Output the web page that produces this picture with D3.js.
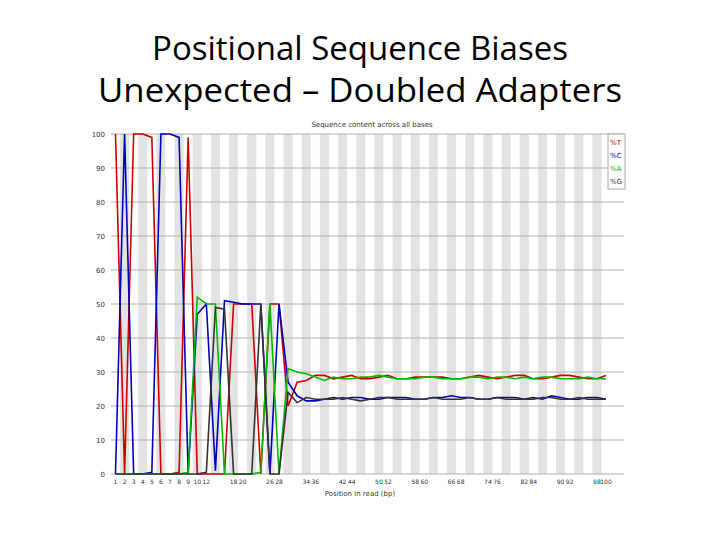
<!DOCTYPE html>
<html><head><meta charset="utf-8">
<script src="https://cdn.jsdelivr.net/npm/d3@7"></script>
<style>body{margin:0;background:#fff}</style>
</head><body>
<script>
// positions (FastQC style bins)
const positions = [];
for (let i = 1; i <= 9; i++) positions.push(String(i));
for (let i = 10; positions.length < 55; i += 2) positions.push(i + "-" + (i + 1));

const pctT = [100,0,100,100,99,0,0,0.5,99,0,0,0,0,50,50,50,0,50,50,20,27,27.5,29,29,28,28.5,29,28,28,28.5,29,28,28,28.5,28.5,28.5,28.5,28,28,28.5,29,28.5,28,28.5,29,29,28,28,28.5,29,29,28.5,28,28,29];
const pctC = [0,100,0,0,0.5,100,100,99,0,47,50,1,51,50.5,50,50,50,0,50,27,23,21.5,21.5,22,22.5,22,22.5,22.5,22,22,22.5,22.5,22.5,22,22,22.5,22.5,23,22.5,22.5,22,22,22.5,22.5,22.5,22,22.5,22,23,22.5,22,22,22.5,22.5,22];
const pctA = [0,0,0,0,0,0,0,0,0.5,52,50,50,0,0,0,0,0.5,50,0,31,30,29.5,28.5,27.5,28.5,28,28,28.5,28.5,29,28.5,28,28,28,28.5,28.5,28,28,28,28.5,28.5,28,28.5,28.5,28,28.5,28,28.5,28.5,28,28,28,28.5,28,28];
const pctG = [0,0,0,0,0,0,0,0,0,0,0.5,49,48.5,0,0,0,50,0,0,24,21,22.5,22,22,22,22.5,22,21.5,22,22.5,22.5,22,22,22,22,22.5,22,22,22,22.5,22,22,22.5,22,22,22,22,22.5,22.5,22,22,22.5,22,22,22];
const series = [
  {name: "%T", values: pctT, color: "#cc0000"},
  {name: "%C", values: pctC, color: "#0000bb"},
  {name: "%A", values: pctA, color: "#00bb00"},
  {name: "%G", values: pctG, color: "#333333"}
];
const yTicks = [0,10,20,30,40,50,60,70,80,90,100];

const svg = d3.select("body").append("svg").attr("width", 720).attr("height", 540);

svg.append("text").attr("x", 360).attr("y", 60).attr("text-anchor", "middle")
  .attr("font-family", "Open Sans, sans-serif").attr("font-size", 33).text("Positional Sequence Biases");
svg.append("text").attr("x", 360).attr("y", 102).attr("text-anchor", "middle")
  .attr("font-family", "Open Sans, sans-serif").attr("font-size", 33)
  .attr("textLength", 524).attr("lengthAdjust", "spacingAndGlyphs").text("Unexpected – Doubled Adapters");

const pLeft = 111, pRight = 610, pTop = 134, pBottom = 474;
const x = d3.scalePoint().domain(positions).range([pLeft + 4.5, pRight - 4]);
const y = d3.scaleLinear().domain([0, 100]).range([pBottom, pTop]);
const step = x.step();

const g = svg.append("g").attr("font-family", "DejaVu Sans, sans-serif");

// alternating stripes
g.selectAll("rect.band").data(positions.filter((d, i) => i % 2 == 1)).join("rect")
  .attr("x", d => x(d) - step / 2).attr("y", pTop).attr("width", step).attr("height", pBottom - pTop)
  .attr("fill", "#e3e3e3");

// horizontal grid
g.selectAll("line.grid").data(yTicks).join("line")
  .attr("x1", pLeft).attr("x2", pRight + 14).attr("y1", d => y(d)).attr("y2", d => y(d))
  .attr("stroke", "#b0b0b0").attr("stroke-width", 1);

g.selectAll("text.ytick").data(yTicks).join("text")
  .attr("x", 105).attr("y", d => y(d) + 3).attr("text-anchor", "end")
  .attr("font-size", 7).attr("fill", "#333").text(d => d);

g.selectAll("text.xtick").data(positions.filter((d, i) => i < 9 || (i - 9) % 4 == 0 || (i - 9) % 4 == 1)).join("text")
  .attr("x", d => x(d)).attr("y", 484).attr("text-anchor", "middle")
  .attr("font-size", 6).attr("fill", "#333").text(d => d.split("-")[0]);

const line = d3.line().x((d, i) => x(positions[i])).y(d => y(d));
series.forEach(s => {
  g.append("path").datum(s.values).attr("d", line).attr("fill", "none")
    .attr("stroke", s.color).attr("stroke-width", 1.6);
});

g.append("text").attr("x", 372).attr("y", 127).attr("text-anchor", "middle")
  .attr("font-size", 7).attr("fill", "#333").text("Sequence content across all bases");
g.append("text").attr("x", 360).attr("y", 496).attr("text-anchor", "middle")
  .attr("font-size", 7).attr("fill", "#333").text("Position in read (bp)");

// legend
g.append("rect").attr("x", 608).attr("y", 134).attr("width", 17).attr("height", 55)
  .attr("fill", "#fff").attr("stroke", "#aaa");
series.forEach((s, i) => {
  g.append("text").attr("x", 610).attr("y", 145 + i * 13).attr("font-size", 7)
    .attr("fill", s.color).text(s.name);
});
</script>
</body></html>
